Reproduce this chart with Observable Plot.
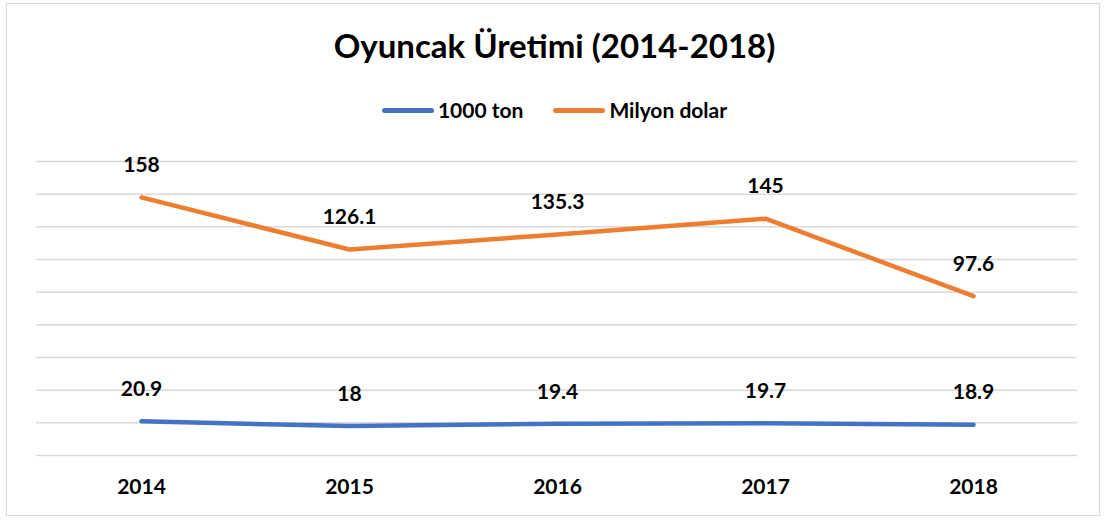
<!DOCTYPE html>
<html>
<head>
<meta charset="utf-8">
<script src="https://cdn.jsdelivr.net/npm/d3@7"></script>
<script src="https://cdn.jsdelivr.net/npm/@observablehq/plot@0.6"></script>
<style>
  html, body { margin: 0; padding: 0; background: #fff; }
  #wrap { position: relative; width: 1109px; height: 520px; overflow: hidden; font-family: Lato, "Open Sans", sans-serif; }
  #frame { position: absolute; left: 6px; top: 3px; width: 1094px; height: 513px; border: 1.5px solid #d9d9d9; box-sizing: border-box; }
  #title { position: absolute; left: 0; top: 25px; width: 1109px; text-align: center; font-weight: 700; font-size: 33px; color: #000; line-height: 40px; }
  #legend { position: absolute; left: 0; top: 96px; width: 1109px; display: flex; justify-content: center; align-items: center; font-weight: 700; font-size: 21px; color: #000; line-height: 28px; }
  .sw { display: inline-block; width: 52px; height: 5px; border-radius: 3px; margin-right: 4px; }
  .item { display: flex; align-items: center; margin: 0 15px; }
  #chart { position: absolute; left: 0; top: 130px; }
</style>
</head>
<body>
<div id="wrap">
  <div id="frame"></div>
  <div id="title">Oyuncak Üretimi (2014-2018)</div>
  <div id="legend"></div>
  <div id="chart"></div>
</div>
<script>
const years = ["2014", "2015", "2016", "2017", "2018"];
const seriesNames = ["1000 ton", "Milyon dolar"];
const tonValues = [20.9, 18, 19.4, 19.7, 18.9];
const dollarValues = [158, 126.1, 135.3, 145, 97.6];
const colors = ["#4472C4", "#ED7D31"];
const gridTicks = [0, 20, 40, 60, 80, 100, 120, 140, 160, 180];

const data = [];
years.forEach((y, i) => {
  data.push({year: y, series: seriesNames[0], value: tonValues[i]});
  data.push({year: y, series: seriesNames[1], value: dollarValues[i]});
});

const legend = document.getElementById("legend");
seriesNames.forEach((s, i) => {
  const it = document.createElement("div");
  it.className = "item";
  it.innerHTML = `<span class="sw" style="background:${colors[i]}"></span><span>${s}</span>`;
  legend.appendChild(it);
});

const chart = Plot.plot({
  width: 1109,
  height: 390,
  marginLeft: 36,
  marginRight: 32,
  marginTop: 31,
  marginBottom: 65,
  style: {fontFamily: "Lato, 'Open Sans', sans-serif", background: "transparent"},
  x: {type: "point", domain: years, padding: 0.5, label: null},
  y: {domain: [0, 180], axis: null},
  color: {domain: seriesNames, range: colors},
  marks: [
    Plot.ruleY(gridTicks, {stroke: "#d9d9d9", strokeWidth: 1.5}),
    Plot.axisX({tickSize: 0, tickPadding: 24, fontSize: 21, fontWeight: "bold", fill: "#000", label: null}),
    Plot.line(data, {x: "year", y: "value", z: "series", stroke: "series", strokeWidth: 4.5, strokeLinecap: "round", strokeLinejoin: "round"}),
    Plot.text(data, {x: "year", y: "value", text: d => String(d.value), dy: -32, fontSize: 21, fontWeight: "bold", fill: "#000"})
  ]
});
document.getElementById("chart").appendChild(chart);
</script>
</body>
</html>
